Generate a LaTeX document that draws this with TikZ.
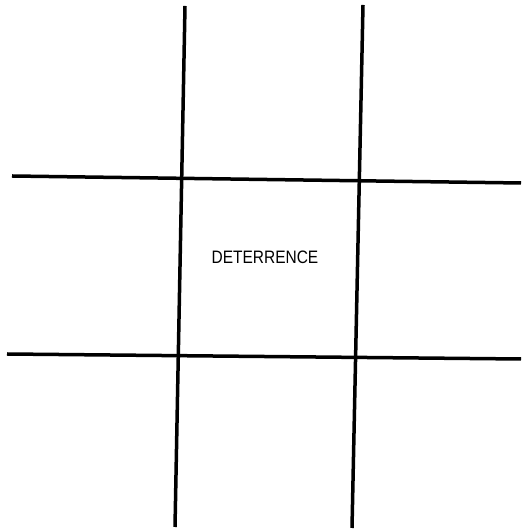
\documentclass[tikz,border=0pt]{standalone}
\usepackage{fontspec}
\setmainfont{Liberation Sans}
\begin{document}
\begin{tikzpicture}[x=1pt, y=1pt, every path/.style={line width=3.5pt, line cap=butt}]
        \useasboundingbox (0, 0) rectangle (521, 529);
        % grid lines
        \coordinate (lt) at (185, 523);
        \coordinate (lb) at (175, 2);
        \coordinate (rt) at (363, 524);
        \coordinate (rb) at (352, 1);
        \coordinate (tl) at (12, 353);
        \coordinate (tr) at (521, 346);
        \coordinate (bl) at (7, 175);
        \coordinate (br) at (521, 170);
        \draw (lt) -- (lb);
        \draw (rt) -- (rb);
        \draw (tl) -- (tr);
        \draw (bl) -- (br);
        \node[font=\fontsize{18}{20}\selectfont, xscale=0.86] (deterrence) at (265, 272) {DETERRENCE};
\end{tikzpicture}
\end{document}
